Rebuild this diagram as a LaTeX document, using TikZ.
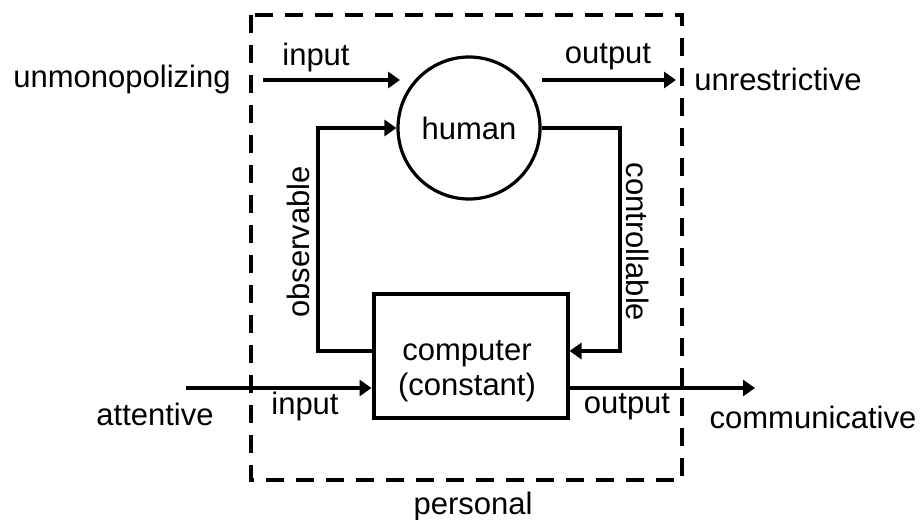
\documentclass[tikz,border=0pt]{standalone}
\usepackage{fontspec}
\setmainfont{Liberation Sans}
\usetikzlibrary{arrows.meta}
\tikzset{
  arr/.style={-{Triangle[length=6pt,width=8pt]}, line width=2pt},
  lbl/.style={inner sep=0pt, font=\fontsize{15.5}{17.5}\selectfont},
}
\begin{document}
\begin{tikzpicture}[x=0.5pt,y=-0.5pt]
  \useasboundingbox (0,0) rectangle (924,519);
  % personal boundary
  \draw[line width=2pt, dash pattern=on 9pt off 6pt] (251,15) rectangle (682,480);
  % human and computer
  \node[draw, circle, line width=1.6pt, minimum size=71pt, lbl] (human) at (469,128) {human};
  \node[draw, line width=2pt, minimum width=97pt, minimum height=62pt] (computer) at (470.5,356) {};
  \node[lbl, align=center] (comptext) at (467,371) {computer\\(constant)};
  % plain labels
  \foreach \nm/\x/\y/\txt in {unmono/122/79/unmonopolizing, hin/316/57/input,
      hout/608/57/output, unrestr/778/79/unrestrictive, attent/155/414/attentive,
      cin/305/406/input, cout/627/407/output, commun/813/417/communicative,
      personal/473/506/personal}
    {\node[lbl] (\nm) at (\x,\y) {\txt};}
  \node[lbl, rotate=90] (obslbl) at (298,242) {observable};
  \node[lbl, rotate=-90] (ctrllbl) at (638,242) {controllable};
  % free ends of the outer arrows
  \coordinate (hinstart) at (263,80);
  \coordinate (hinend) at (400,80);
  \coordinate (houtstart) at (542,80);
  \coordinate (houtend) at (676,80);
  \coordinate (cinstart) at (186,388);
  \coordinate (coutend) at (755,388);
  \draw[arr] (hinstart) -- (hinend);
  \draw[arr] (houtstart) -- (houtend);
  \draw[arr] (cinstart) -- (computer.west |- cinstart);
  \draw[arr] (computer.east |- coutend) -- (coutend);
  % feedback loop
  \draw[arr] ([yshift=2.5pt]computer.west) -- ++(-54,0) |- (human.west);
  \draw[arr] (human.east) -- ++(78,0) |- ([yshift=2.5pt]computer.east);
\end{tikzpicture}
\end{document}
